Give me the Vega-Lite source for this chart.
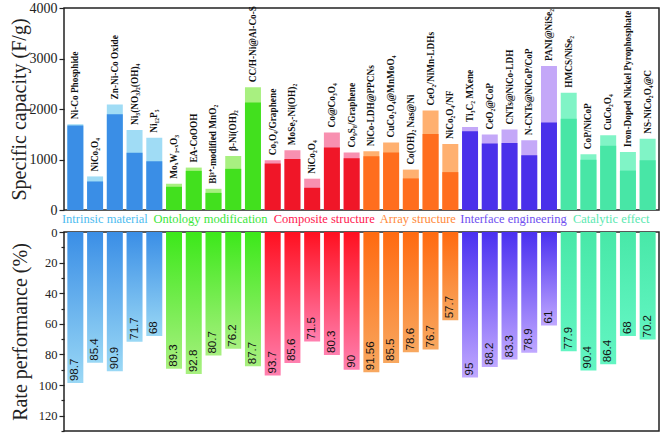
{
  "$schema": "https://vega.github.io/schema/vega-lite/v6.json",
  "padding": {"left": 8, "top": 0, "right": 2, "bottom": 3},
  "spacing": 0,
  "bounds": "flush",
  "background": "white",
  "config": {
    "view": {"stroke": "#222", "strokeWidth": 1.5},
    "font": "Liberation Serif",
    "axis": {
      "domain": false, "grid": false, "tickColor": "#222", "tickSize": 5, "tickWidth": 1.2,
      "labelFont": "Liberation Serif", "labelColor": "#222", "labelPadding": 2,
      "titleFont": "Liberation Serif", "titleFontSize": 20, "titleFontWeight": "normal", "titleColor": "#222"
    }
  },
  "datasets": {
    "bars": [
      {"id": "b01", "name": "Ni-Co Phosphide", "group": "Intrinsic material", "capacity": 1700, "retained": 1675, "rate": 98.7},
      {"id": "b02", "name": "NiCo₂O₄", "group": "Intrinsic material", "capacity": 665, "retained": 565, "rate": 85.4},
      {"id": "b03", "name": "Zn-Ni-Co Oxide", "group": "Intrinsic material", "capacity": 2090, "retained": 1895, "rate": 90.9},
      {"id": "b04", "name": "Ni₃(NO₃)₂(OH)₄", "group": "Intrinsic material", "capacity": 1585, "retained": 1135, "rate": 71.7},
      {"id": "b05", "name": "Ni₁₂P₅", "group": "Intrinsic material", "capacity": 1430, "retained": 965, "rate": 68},
      {"id": "b06", "name": "MoₓW₁₋ₓO₃", "group": "Ontology modification", "capacity": 520, "retained": 460, "rate": 89.3},
      {"id": "b07", "name": "EA-CoOOH", "group": "Ontology modification", "capacity": 840, "retained": 775, "rate": 92.8},
      {"id": "b08", "name": "Bi³⁺-modified MnO₂", "group": "Ontology modification", "capacity": 420, "retained": 339, "rate": 80.7},
      {"id": "b09", "name": "β-Ni(OH)₂", "group": "Ontology modification", "capacity": 1070, "retained": 815, "rate": 76.2},
      {"id": "b10", "name": "CC/H-Ni@Al-Co-S", "group": "Ontology modification", "capacity": 2430, "retained": 2130, "rate": 87.7},
      {"id": "b11", "name": "Co₃O₄/Graphene", "group": "Composite structure", "capacity": 985, "retained": 920, "rate": 93.7},
      {"id": "b12", "name": "MoSe₂-Ni(OH)₂", "group": "Composite structure", "capacity": 1185, "retained": 1010, "rate": 85.6},
      {"id": "b13", "name": "NiCo₂O₄", "group": "Composite structure", "capacity": 620, "retained": 440, "rate": 71.5},
      {"id": "b14", "name": "Co@Co₃O₄", "group": "Composite structure", "capacity": 1535, "retained": 1240, "rate": 80.3},
      {"id": "b15", "name": "Co₉S₈/Graphene", "group": "Composite structure", "capacity": 1140, "retained": 1025, "rate": 90},
      {"id": "b16", "name": "NiCo-LDH@PPCNs", "group": "Array structure", "capacity": 1165, "retained": 1065, "rate": 91.56},
      {"id": "b17", "name": "CuCo₂O₄@MnMoO₄", "group": "Array structure", "capacity": 1335, "retained": 1140, "rate": 85.5},
      {"id": "b18", "name": "Co(OH)₂ Nas@Ni", "group": "Array structure", "capacity": 800, "retained": 625, "rate": 78.6},
      {"id": "b19", "name": "CeO₂/NiMn-LDHs", "group": "Array structure", "capacity": 1970, "retained": 1505, "rate": 76.7},
      {"id": "b20", "name": "NiCo₂O₄/NF", "group": "Array structure", "capacity": 1305, "retained": 750, "rate": 57.7},
      {"id": "b21", "name": "Ti₃C₂ MXene", "group": "Interface engineering", "capacity": 1645, "retained": 1560, "rate": 95},
      {"id": "b22", "name": "CeO₂@CoP", "group": "Interface engineering", "capacity": 1495, "retained": 1315, "rate": 88.2},
      {"id": "b23", "name": "CNTs@NiCo-LDH", "group": "Interface engineering", "capacity": 1595, "retained": 1325, "rate": 83.3},
      {"id": "b24", "name": "N-CNTs@NiCoP/CoP", "group": "Interface engineering", "capacity": 1380, "retained": 1085, "rate": 78.9},
      {"id": "b25", "name": "PANI@NiSe₂", "group": "Interface engineering", "capacity": 2850, "retained": 1735, "rate": 61},
      {"id": "b26", "name": "HMCS/NiSe₂", "group": "Catalytic effect", "capacity": 2320, "retained": 1805, "rate": 77.9},
      {"id": "b27", "name": "CoP/NiCoP", "group": "Catalytic effect", "capacity": 1105, "retained": 995, "rate": 90.4},
      {"id": "b28", "name": "CuCo₂O₄", "group": "Catalytic effect", "capacity": 1480, "retained": 1270, "rate": 86.4},
      {"id": "b29", "name": "Iron-Doped Nickel Pyrophosphate", "group": "Catalytic effect", "capacity": 1150, "retained": 780, "rate": 68},
      {"id": "b30", "name": "NS-NiCo₂O₄@C", "group": "Catalytic effect", "capacity": 1410, "retained": 985, "rate": 70.2}
    ],
    "groups": [
      {"id": "b03", "group": "Intrinsic material"},
      {"id": "b08", "group": "Ontology modification"},
      {"id": "b13", "group": "Composite structure"},
      {"id": "b18", "group": "Array structure"},
      {"id": "b23", "group": "Interface engineering"},
      {"id": "b28", "group": "Catalytic effect"}
    ]
  },
  "resolve": {"scale": {"x": "shared", "color": "independent"}},
  "vconcat": [
    {
      "width": 595, "height": 202,
      "data": {"name": "bars"},
      "encoding": {"x": {"field": "id", "type": "nominal", "axis": null, "scale": {"paddingInner": 0.19, "paddingOuter": 0.17}}},
      "layer": [
        {
          "mark": {"type": "bar"},
          "encoding": {
            "y": {"field": "capacity", "type": "quantitative", "scale": {"domain": [0, 4000], "nice": false},
                  "axis": {"title": "Specific capacity (F/g)", "values": [0, 500, 1000, 1500, 2000, 2500, 3000, 3500, 4000], "format": "d", "labelFontSize": 14, "titlePadding": 0}},
            "color": {"field": "group", "type": "nominal", "legend": null,
                      "scale": {"domain": ["Intrinsic material", "Ontology modification", "Composite structure", "Array structure", "Interface engineering", "Catalytic effect"],
                                "range": ["#a0dcf5", "#a8f080", "#f890b0", "#ffb070", "#c4a8f8", "#80f4c6"]}}
          }
        },
        {
          "mark": {"type": "bar"},
          "encoding": {
            "y": {"field": "retained", "type": "quantitative"},
            "color": {"field": "group", "type": "nominal", "legend": null,
                      "scale": {"domain": ["Intrinsic material", "Ontology modification", "Composite structure", "Array structure", "Interface engineering", "Catalytic effect"],
                                "range": ["#3a8ee6", "#42e01e", "#f01628", "#ff6e1e", "#4a30ea", "#48e6a6"]}}
          }
        },
        {
          "mark": {"type": "text", "angle": 270, "align": "left", "baseline": "middle", "dx": 5, "font": "Liberation Serif", "fontWeight": "bold", "fontSize": 9.3, "color": "#111"},
          "encoding": {
            "y": {"field": "capacity", "type": "quantitative"},
            "text": {"field": "name", "type": "nominal"}
          }
        }
      ],
      "resolve": {"scale": {"color": "independent"}}
    },
    {
      "width": 595, "height": 22,
      "data": {"name": "groups"},
      "view": {"stroke": null},
      "encoding": {
        "x": {"field": "id", "type": "nominal", "axis": null},
        "text": {"field": "group", "type": "nominal"}
      },
      "layer": [
        {"transform": [{"filter": "datum.group === 'Intrinsic material'"}],
         "mark": {"type": "text", "font": "Liberation Serif", "fontSize": 12.5, "baseline": "middle", "dy": -2, "dx": -10, "color": "#4dbcf0"}},
        {"transform": [{"filter": "datum.group === 'Ontology modification'"}],
         "mark": {"type": "text", "font": "Liberation Serif", "fontSize": 12.5, "baseline": "middle", "dy": -2, "dx": -3, "color": "#3ce63c"}},
        {"transform": [{"filter": "datum.group === 'Composite structure'"}],
         "mark": {"type": "text", "font": "Liberation Serif", "fontSize": 12.5, "baseline": "middle", "dy": -2, "dx": 12, "color": "#ff2050"}},
        {"transform": [{"filter": "datum.group === 'Array structure'"}],
         "mark": {"type": "text", "font": "Liberation Serif", "fontSize": 12.5, "baseline": "middle", "dy": -2, "dx": 7, "color": "#ff8a3a"}},
        {"transform": [{"filter": "datum.group === 'Interface engineering'"}],
         "mark": {"type": "text", "font": "Liberation Serif", "fontSize": 12.5, "baseline": "middle", "dy": -2, "dx": 4, "color": "#7050f0"}},
        {"transform": [{"filter": "datum.group === 'Catalytic effect'"}],
         "mark": {"type": "text", "font": "Liberation Serif", "fontSize": 12.5, "baseline": "middle", "dy": -2, "dx": 3, "color": "#5ae8b0"}}
      ]
    },
    {
      "width": 595, "height": 199,
      "data": {"name": "bars"},
      "encoding": {
        "x": {"field": "id", "type": "nominal", "axis": null},
        "y": {"field": "rate", "type": "quantitative", "scale": {"domain": [0, 130], "reverse": true, "nice": false},
              "axis": {"title": "Rate performance (%)", "values": [0, 10, 20, 30, 40, 50, 60, 70, 80, 90, 100, 110, 120, 130],
                       "labelExpr": "datum.value % 20 === 0 && datum.value < 130 ? datum.label : ''",
                       "tickSize": {"condition": {"test": "datum.value % 20 === 0", "value": 5}, "value": 3},
                       "labelFontSize": 12.5, "titlePadding": 8}}
      },
      "layer": [
        {"transform": [{"filter": "datum.group === 'Intrinsic material'"}],
         "mark": {"type": "bar", "fill": {"gradient": "linear", "x1": 0, "y1": 0, "x2": 0, "y2": 1, "stops": [{"offset": 0, "color": "#3a8ee6"}, {"offset": 1, "color": "#9ad8f5"}]}}},
        {"transform": [{"filter": "datum.group === 'Ontology modification'"}],
         "mark": {"type": "bar", "fill": {"gradient": "linear", "x1": 0, "y1": 0, "x2": 0, "y2": 1, "stops": [{"offset": 0, "color": "#3ce81a"}, {"offset": 1, "color": "#a8f080"}]}}},
        {"transform": [{"filter": "datum.group === 'Composite structure'"}],
         "mark": {"type": "bar", "fill": {"gradient": "linear", "x1": 0, "y1": 0, "x2": 0, "y2": 1, "stops": [{"offset": 0, "color": "#ff1020"}, {"offset": 1, "color": "#ff80b0"}]}}},
        {"transform": [{"filter": "datum.group === 'Array structure'"}],
         "mark": {"type": "bar", "fill": {"gradient": "linear", "x1": 0, "y1": 0, "x2": 0, "y2": 1, "stops": [{"offset": 0, "color": "#ff6a10"}, {"offset": 1, "color": "#f8a860"}]}}},
        {"transform": [{"filter": "datum.group === 'Interface engineering'"}],
         "mark": {"type": "bar", "fill": {"gradient": "linear", "x1": 0, "y1": 0, "x2": 0, "y2": 1, "stops": [{"offset": 0, "color": "#4a30f0"}, {"offset": 1, "color": "#c0a8ff"}]}}},
        {"transform": [{"filter": "datum.group === 'Catalytic effect'"}],
         "mark": {"type": "bar", "fill": {"gradient": "linear", "x1": 0, "y1": 0, "x2": 0, "y2": 1, "stops": [{"offset": 0, "color": "#48e8a8"}, {"offset": 1, "color": "#62f5c2"}]}}},
        {
          "mark": {"type": "text", "angle": 270, "align": "left", "baseline": "middle", "dx": 2, "font": "Liberation Sans", "fontSize": 11.5, "color": "#111"},
          "encoding": {"text": {"field": "rate", "type": "quantitative"}}
        }
      ]
    }
  ]
}
